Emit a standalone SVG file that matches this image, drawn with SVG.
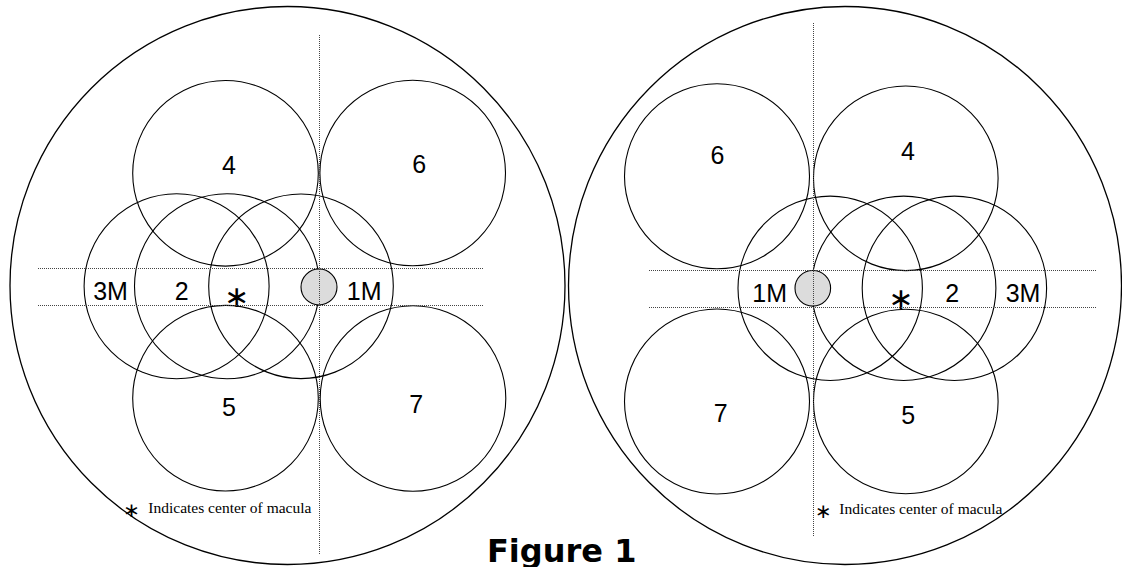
<svg xmlns="http://www.w3.org/2000/svg" width="1122" height="567" viewBox="0 0 1122 567">
  <style>
    .eye { fill: none; stroke: #000; stroke-width: 1.3; }
    .field { fill: none; stroke: #000; stroke-width: 1.1; }
    .disc { fill: #dcdcdc; stroke: #000; stroke-width: 1.1; }
    .guide { stroke: #444; stroke-width: 1; stroke-dasharray: 1 1; fill: none; }
    .lbl { font-family: "Liberation Sans", Arial, sans-serif; font-size: 25px; text-anchor: middle; fill: #000; }
    .star { font-family: "DejaVu Sans", sans-serif; font-size: 30px; text-anchor: middle; fill: #000; }
    .note-star { font-family: "DejaVu Sans", sans-serif; font-size: 20px; text-anchor: middle; fill: #000; }
    .note { font-family: "Liberation Serif", "Times New Roman", serif; font-size: 15.5px; fill: #000; }
    .title { font-family: "DejaVu Sans", Verdana, sans-serif; font-weight: bold; font-size: 32px; fill: #000; }
  </style>

  <!-- left eye -->
  <g id="left-eye">
    <ellipse id="left-eye-outline" class="eye" cx="287.5" cy="285.5" rx="277.5" ry="279"/>
    <g id="left-field-4"><circle class="field" cx="225.5" cy="173.3" r="92.8"/><text class="lbl" x="229" y="174">4</text></g>
    <g id="left-field-6"><circle class="field" cx="412.7" cy="173" r="92.8"/><text class="lbl" x="419.3" y="173.3">6</text></g>
    <g id="left-field-3M"><circle class="field" cx="176.6" cy="286.3" r="92.5"/><text class="lbl" x="110.5" y="300">3M</text></g>
    <g id="left-field-2"><circle class="field" cx="227" cy="286.3" r="92.5"/><text class="lbl" x="181.7" y="300">2</text></g>
    <g id="left-field-1M"><circle class="field" cx="301" cy="286.3" r="92.3"/><text class="lbl" x="364.2" y="300">1M</text></g>
    <g id="left-field-5"><circle class="field" cx="225.5" cy="398.2" r="92.8"/><text class="lbl" x="229" y="415.7">5</text></g>
    <g id="left-field-7"><circle class="field" cx="413" cy="398.5" r="92.8"/><text class="lbl" x="416.2" y="413.3">7</text></g>
    <g id="left-disc"><circle class="disc" cx="319" cy="287" r="18"/></g>
    <text class="star" x="236.5" y="306.5">∗</text>
    <g id="left-note">
      <text class="note-star" x="131.7" y="517">∗</text>
      <text class="note" x="148.3" y="513.3">Indicates center of macula</text>
    </g>
  </g>

  <!-- right eye -->
  <g id="right-eye">
    <ellipse id="right-eye-outline" class="eye" cx="845" cy="285.5" rx="276.5" ry="279"/>
    <g id="right-field-6"><circle class="field" cx="717" cy="176.2" r="92.5"/><text class="lbl" x="717.5" y="164.3">6</text></g>
    <g id="right-field-4"><circle class="field" cx="905.8" cy="178.3" r="92.3"/><text class="lbl" x="908" y="160">4</text></g>
    <g id="right-field-1M"><circle class="field" cx="830.2" cy="288.3" r="92.2"/><text class="lbl" x="769.7" y="302.3">1M</text></g>
    <g id="right-field-2"><circle class="field" cx="903.7" cy="288.3" r="92.2"/><text class="lbl" x="952.3" y="302.3">2</text></g>
    <g id="right-field-3M"><circle class="field" cx="954.4" cy="288.3" r="92.2"/><text class="lbl" x="1023" y="302.3">3M</text></g>
    <g id="right-field-7"><circle class="field" cx="717" cy="401.5" r="92.5"/><text class="lbl" x="720.7" y="421.7">7</text></g>
    <g id="right-field-5"><circle class="field" cx="905.8" cy="401.5" r="92.3"/><text class="lbl" x="908.3" y="424">5</text></g>
    <g id="right-disc"><circle class="disc" cx="812.8" cy="288.3" r="17.8"/></g>
    <text class="star" x="900.8" y="308.5">∗</text>
    <g id="right-note">
      <text class="note-star" x="823.3" y="517.5">∗</text>
      <text class="note" x="839.3" y="514">Indicates center of macula</text>
    </g>
  </g>

  <!-- dotted reference axes -->
  <g id="guides">
    <line class="guide" x1="319.5" y1="35" x2="319.5" y2="555"/>
    <line class="guide" x1="38" y1="268.5" x2="483" y2="268.5"/>
    <line class="guide" x1="38" y1="305.5" x2="483" y2="305.5"/>
    <line class="guide" x1="813.5" y1="23" x2="813.5" y2="536"/>
    <line class="guide" x1="649" y1="270.5" x2="1096" y2="270.5"/>
    <line class="guide" x1="649" y1="307.5" x2="1096" y2="307.5"/>
  </g>

  <text id="title" class="title" x="487" y="562">Figure 1</text>
</svg>
